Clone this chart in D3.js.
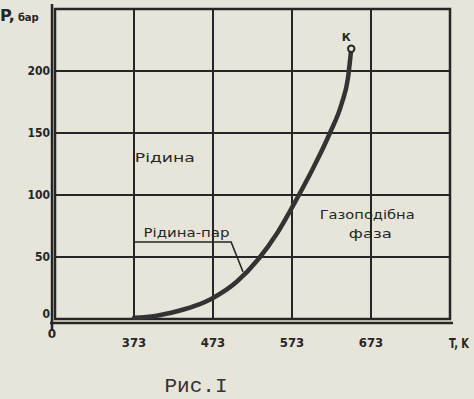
<!DOCTYPE html>
<html>
<head>
<meta charset="utf-8">
<script src="https://cdn.jsdelivr.net/npm/d3@7"></script>
<style>
  body { margin: 0; background: #e7e4d9; }
  svg { display: block; }
</style>
</head>
<body>
<svg id="chart" width="474" height="399"></svg>
<script>
// temperature ticks (K) and pressure ticks (bar)
const xTicks = [373, 473, 573, 673];
const yTicks = [0, 50, 100, 150, 200];
const xDomain = [273, 773];
const yDomain = [0, 250];

// saturation curve: T (K) -> P (bar)
const curveT = [373, 400, 420, 450, 473, 503, 530, 555, 580, 600, 621, 636, 644, 648];
const curveP = [1, 2.5, 5, 10.5, 17, 30, 48, 70, 98, 122, 150, 174, 195, 218];

// critical point
const critT = 648;
const critP = 218;

// region labels (data units)
const regionLabels = [
	{ text: 'Рідина', t: 374, p: 127, len: 60 },
	{ text: 'Рідина-пар', t: 385, p: 66, len: 86 },
	{ text: 'Газоподібна', t: 608, p: 81, len: 95 },
	{ text: 'фаза', t: 645, p: 65, len: 43 }
];
// leader line from "Рідина-пар" to the curve
const leaderT = [374, 496, 511];
const leaderP = [62, 62, 38];

const ink = '#262626';

var svg = d3.select('#chart');

var x = d3.scaleLinear().domain(xDomain).range([55, 450]);
var y = d3.scaleLinear().domain(yDomain).range([319, 9]);

// grid
svg.append('g')
	.selectAll('line')
	.data(xTicks)
	.join('line')
	.attr('x1', d => x(d)).attr('x2', d => x(d))
	.attr('y1', y(250)).attr('y2', y(0))
	.attr('stroke', ink).attr('stroke-width', 2);

svg.append('g')
	.selectAll('line')
	.data(yTicks.filter(d => d > 0))
	.join('line')
	.attr('x1', x(273)).attr('x2', x(773))
	.attr('y1', d => y(d)).attr('y2', d => y(d))
	.attr('stroke', ink).attr('stroke-width', 2);

// frame
svg.append('rect')
	.attr('x', x(273)).attr('y', y(250))
	.attr('width', x(773) - x(273))
	.attr('height', y(0) - y(250))
	.attr('fill', 'none')
	.attr('stroke', ink).attr('stroke-width', 2.5);

// outer axis lines (drawn a little outside the frame, like the original)
svg.append('line')
	.attr('x1', x(273) - 3).attr('x2', x(273) - 3)
	.attr('y1', y(250) - 5).attr('y2', y(0) + 12)
	.attr('stroke', ink).attr('stroke-width', 2.5);
svg.append('line')
	.attr('x1', x(273) - 5).attr('x2', x(773) + 3)
	.attr('y1', y(0) + 4).attr('y2', y(0) + 4)
	.attr('stroke', ink).attr('stroke-width', 2.5);

// tick labels
svg.append('g')
	.selectAll('text')
	.data(xTicks)
	.join('text')
	.attr('x', d => x(d)).attr('y', 347)
	.attr('text-anchor', 'middle')
	.attr('font-family', 'DejaVu Sans Condensed, DejaVu Sans, sans-serif')
	.attr('font-weight', 'bold').attr('font-size', 13)
	.attr('fill', ink)
	.text(d => d);

svg.append('g')
	.selectAll('text')
	.data(yTicks)
	.join('text')
	.attr('x', x(273) - 5).attr('y', d => y(d) + (d === 0 ? -1 : 4))
	.attr('text-anchor', 'end')
	.attr('font-family', 'DejaVu Sans Condensed, DejaVu Sans, sans-serif')
	.attr('font-weight', 'bold').attr('font-size', 12)
	.attr('fill', ink)
	.text(d => d);

// origin "0"
svg.append('text')
	.attr('x', x(273) - 3).attr('y', y(0) + 19)
	.attr('text-anchor', 'middle')
	.attr('font-family', 'DejaVu Sans, sans-serif')
	.attr('font-weight', 'bold').attr('font-size', 12)
	.attr('fill', ink)
	.text('0');

// axis titles
svg.append('text')
	.attr('x', 449).attr('y', 348)
	.attr('textLength', 20)
	.attr('lengthAdjust', 'spacingAndGlyphs')
	.attr('font-family', 'DejaVu Sans Condensed, DejaVu Sans, sans-serif')
	.attr('font-weight', 'bold').attr('font-size', 14)
	.attr('fill', ink)
	.text('T, K');

var pt = svg.append('text')
	.attr('x', 0).attr('y', 21)
	.attr('font-family', 'DejaVu Sans, sans-serif')
	.attr('font-weight', 'bold')
	.attr('fill', ink);
pt.append('tspan').attr('font-size', 16).text('P,');
pt.append('tspan').attr('font-size', 10).attr('dx', 3).text('бар');

// saturation curve
var curveData = curveT.map((t, i) => [t, curveP[i]]);
var line = d3.line()
	.x(d => x(d[0]))
	.y(d => y(d[1]))
	.curve(d3.curveMonotoneX);

svg.append('path')
	.datum(curveData)
	.attr('d', line)
	.attr('fill', 'none')
	.attr('stroke', '#333')
	.attr('stroke-width', 4.5)
	.attr('stroke-linecap', 'round');

// critical point K
svg.append('circle')
	.attr('cx', x(critT)).attr('cy', y(critP))
	.attr('r', 3.2)
	.attr('fill', '#e7e4d9')
	.attr('stroke', ink).attr('stroke-width', 2);
svg.append('text')
	.attr('x', x(critT) - 5).attr('y', y(critP) - 8)
	.attr('text-anchor', 'middle')
	.attr('font-family', 'DejaVu Sans, sans-serif')
	.attr('font-weight', 'bold').attr('font-size', 11)
	.attr('fill', ink)
	.text('К');

// region labels
svg.append('g')
	.selectAll('text')
	.data(regionLabels)
	.join('text')
	.attr('x', d => x(d.t)).attr('y', d => y(d.p))
	.attr('textLength', d => d.len)
	.attr('lengthAdjust', 'spacingAndGlyphs')
	.attr('font-family', 'DejaVu Sans, sans-serif')
	.attr('font-size', 13)
	.attr('fill', ink)
	.text(d => d.text);

// leader
var leaderData = leaderT.map((t, i) => [t, leaderP[i]]);
svg.append('path')
	.datum(leaderData)
	.attr('d', d3.line().x(d => x(d[0])).y(d => y(d[1])))
	.attr('fill', 'none')
	.attr('stroke', ink).attr('stroke-width', 1.5);

// caption
svg.append('text')
	.attr('x', 196).attr('y', 392)
	.attr('text-anchor', 'middle')
	.attr('font-family', 'Liberation Mono, monospace')
	.attr('font-size', 21)
	.attr('fill', '#333')
	.text('Рис.I');
</script>
</body>
</html>
